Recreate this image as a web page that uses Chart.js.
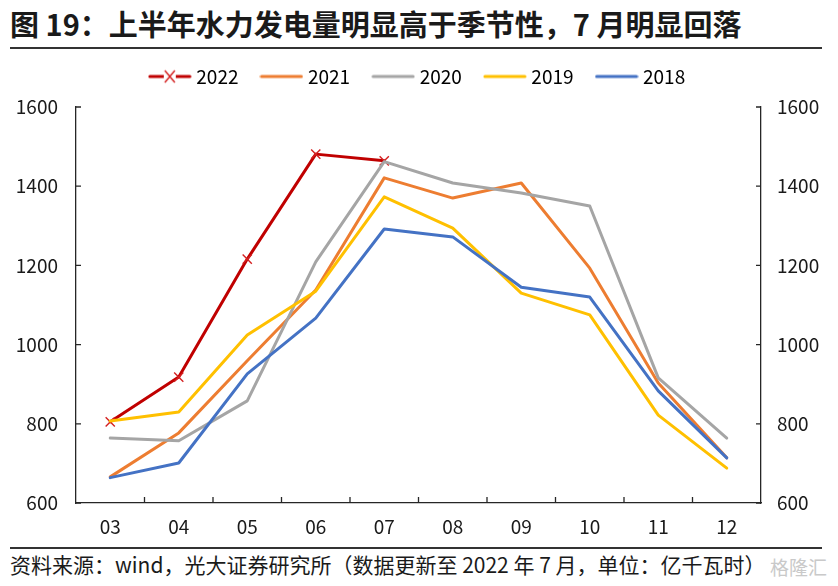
<!DOCTYPE html>
<html>
<head>
<meta charset="utf-8">
<script src="https://cdn.jsdelivr.net/npm/chart.js@4/dist/chart.umd.min.js"></script>
<style>
  body { margin: 0; width: 838px; height: 586px; background: #fff; position: relative; overflow: hidden;
         font-family: "Noto Sans CJK SC", "Noto Sans", sans-serif; color: #1a1a1a; }
  #title { position: absolute; left: 10px; top: 2px; font-size: 29px; font-weight: bold; white-space: nowrap; }
  .rule { position: absolute; left: 10px; width: 812px; height: 2px; background: #333; }
  #source { position: absolute; left: 10px; top: 549px; font-size: 21px; white-space: nowrap; }
  #mark { position: absolute; left: 770px; top: 553px; font-size: 19px; color: #c9c9c9; white-space: nowrap; }
  #wrap { position: absolute; left: 0; top: 40px; width: 838px; height: 503px; }
</style>
</head>
<body>
<div id="title">图 19：上半年水力发电量明显高于季节性，7 月明显回落</div>
<div class="rule" style="top:47px"></div>
<div id="wrap"><canvas id="chart"></canvas></div>
<div class="rule" style="top:547px"></div>
<div id="source">资料来源：wind，光大证券研究所（数据更新至 2022 年 7 月，单位：亿千瓦时）</div>
<div id="mark">格隆汇</div>
<script>
// values (亿千瓦时)
var months = ['03', '04', '05', '06', '07', '08', '09', '10', '11', '12'];
var y2022  = [805, 918, 1216, 1481, 1464];
var y2021  = [666, 777, 959, 1138, 1421, 1370, 1408, 1193, 903, 714];
var y2020  = [764, 757, 858, 1209, 1462, 1408, 1383, 1350, 916, 764];
var y2019  = [807, 830, 1024, 1135, 1373, 1294, 1130, 1075, 822, 688];
var y2018  = [664, 701, 926, 1067, 1292, 1272, 1145, 1120, 883, 714];
var seriesNames = ['2022', '2021', '2020', '2019', '2018'];
var yTicks = [600, 800, 1000, 1200, 1400, 1600];

var colors = ['#C00000', '#ED7D31', '#A5A5A5', '#FFC000', '#4472C4'];
var axisColor = '#262626';
var font = "'Noto Sans CJK SC', 'Noto Sans', sans-serif";

// legend swatch: a short line, with an X for 2022
function swatch(color, cross) {
  var c = document.createElement('canvas');
  c.width = 44; c.height = 16;
  var g = c.getContext('2d');
  g.strokeStyle = color; g.lineWidth = 3; g.lineCap = 'round';
  g.beginPath(); g.moveTo(2, 8); g.lineTo(42, 8); g.stroke();
  if (cross) {
    g.fillStyle = '#fff'; g.fillRect(16, 1, 12, 14);
    g.strokeStyle = '#D42020'; g.lineWidth = 1.4; g.lineCap = 'butt';
    g.beginPath();
    g.moveTo(17, 2); g.lineTo(27, 14); g.moveTo(27, 2); g.lineTo(17, 14);
    g.stroke();
  }
  return c;
}

function line(i, data) {
  return {
    label: seriesNames[i],
    data: data,
    borderColor: colors[i],
    backgroundColor: colors[i],
    borderWidth: 3,
    borderCapStyle: 'round',
    borderJoinStyle: 'round',
    tension: 0,
    pointRadius: 0,
    order: 4 - i
  };
}

var datasets = [line(0, y2022), line(1, y2021), line(2, y2020), line(3, y2019), line(4, y2018)];
datasets[0].pointStyle = 'crossRot';
datasets[0].pointRadius = 6.5;
datasets[0].pointBorderColor = '#D42020';
datasets[0].pointBorderWidth = 1.4;

var legendSize = {
  id: 'legendSize',
  beforeInit: function(chart) {
    var fit = chart.legend.fit;
    chart.legend.fit = function() {
      fit.bind(chart.legend)();
      this.height = 66;
    };
  }
};

var innerTicks = {
  id: 'innerTicks',
  afterDraw: function(chart) {
    var ctx = chart.ctx, a = chart.chartArea;
    var ys = chart.scales.y, xs = chart.scales.x;
    ctx.save();
    ctx.strokeStyle = axisColor;
    ctx.lineWidth = 1.3;
    ctx.beginPath();
    ys.ticks.forEach(function(t) {
      var p = ys.getPixelForValue(t.value);
      ctx.moveTo(a.left, p); ctx.lineTo(a.left + 5, p);
      ctx.moveTo(a.right, p); ctx.lineTo(a.right - 5, p);
    });
    for (var i = 1; i < months.length; i++) {
      var p = (xs.getPixelForTick(i - 1) + xs.getPixelForTick(i)) / 2;
      ctx.moveTo(p, a.bottom); ctx.lineTo(p, a.bottom - 6);
    }
    ctx.stroke();
    ctx.restore();
  }
};

function yAxis(pos, width, pad) {
  return {
    type: 'linear',
    position: pos,
    min: 600, max: 1600,
    afterBuildTicks: function(s) { s.ticks = yTicks.map(function(v) { return { value: v }; }); },
    afterFit: function(s) { s.width = width; },
    grid: { display: false, drawTicks: false },
    border: { display: true, color: axisColor, width: 1.3 },
    ticks: {
      padding: pad, color: '#1a1a1a', font: { family: font, size: 19 },
      callback: function(v) { return String(v); }
    }
  };
}

new Chart(document.getElementById('chart'), {
  type: 'line',
  data: { labels: months, datasets: datasets },
  options: {
    responsive: true,
    maintainAspectRatio: false,
    animation: false,
    layout: { padding: { top: 1, left: 0, right: 0, bottom: 0 } },
    plugins: {
      tooltip: { enabled: false },
      legend: {
        position: 'top',
        labels: {
          usePointStyle: true,
          pointStyleWidth: 34,
          padding: 26,
          color: '#1a1a1a',
          font: { family: font, size: 19 },
          generateLabels: function(chart) {
            return chart.data.datasets.map(function(ds, i) {
              return { text: ds.label, pointStyle: swatch(colors[i], i === 0), datasetIndex: i,
                       fillStyle: colors[i], strokeStyle: colors[i], lineWidth: 0 };
            });
          }
        }
      }
    },
    scales: {
      x: {
        offset: true,
        afterFit: function(s) { s.height = 40; },
        grid: { display: false, drawTicks: false, offset: true },
        border: { display: true, color: axisColor, width: 1.3 },
        ticks: { padding: 12, color: '#1a1a1a', font: { family: font, size: 19 } }
      },
      y: yAxis('left', 76, 18),
      y2: yAxis('right', 77, 16)
    }
  },
  plugins: [legendSize, innerTicks]
});
</script>
</body>
</html>
